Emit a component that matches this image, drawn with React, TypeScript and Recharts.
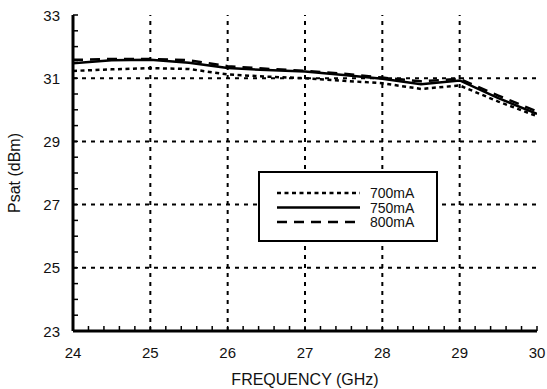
import React from "react";
import {
  LineChart,
  Line,
  XAxis,
  YAxis,
  ReferenceLine,
  Legend,
} from "recharts";

const frequency = [24, 24.5, 25, 25.5, 26, 26.5, 27, 27.5, 28, 28.5, 29, 29.5, 30];
const psat700 = [31.23, 31.28, 31.32, 31.29, 31.12, 31.05, 31.0, 30.92, 30.84, 30.66, 30.77, 30.26, 29.8];
const psat750 = [31.47, 31.57, 31.58, 31.49, 31.32, 31.26, 31.21, 31.1, 30.98, 30.81, 30.93, 30.37, 29.87];
const psat800 = [31.58, 31.61, 31.61, 31.57, 31.38, 31.3, 31.23, 31.14, 31.02, 30.9, 30.98, 30.45, 29.95];

const xTicks = Array.from({ length: 31 }, (_, i) => +(24 + i * 0.2).toFixed(1));
const yTicks = Array.from({ length: 21 }, (_, i) => 23 + i * 0.5);
const xGrid = [25, 26, 27, 28, 29];
const yGrid = [25, 27, 29, 31];

const data = frequency.map((f, i) => ({
  f,
  a700: psat700[i],
  a750: psat750[i],
  a800: psat800[i],
}));

const FONT = "'Liberation Sans', Arial, Helvetica, sans-serif";
const isMajor = (v: number) => Math.abs(v - Math.round(v)) < 1e-6;

const BottomTick = ({ x, y, payload }: any) => (
  <g>
    <line x1={x} x2={x} y1={y} y2={y - 5} stroke="#000" strokeWidth={1.5} />
    {isMajor(payload.value) && (
      <text x={x} y={y + 21} textAnchor="middle" dominantBaseline="central" fontSize={15} fontFamily={FONT} fill="#111">
        {Math.round(payload.value)}
      </text>
    )}
  </g>
);

const TopTick = ({ x, y }: any) => (
  <line x1={x} x2={x} y1={y} y2={y + 5} stroke="#000" strokeWidth={1.5} />
);

const LeftTick = ({ x, y, payload }: any) => {
  const v = payload.value;
  const label = isMajor(v) && Math.round(v) % 2 === 1;
  return (
    <g>
      <line x1={x} x2={x + 5} y1={y} y2={y} stroke="#000" strokeWidth={1.5} />
      {label && (
        <text x={x - 13} y={y} textAnchor="end" dominantBaseline="central" fontSize={15} fontFamily={FONT} fill="#111">
          {Math.round(v)}
        </text>
      )}
    </g>
  );
};

const RightTick = ({ x, y }: any) => (
  <line x1={x} x2={x - 5} y1={y} y2={y} stroke="#000" strokeWidth={1.5} />
);

const LegendBox = ({ payload }: any) => (
  <div style={{ width: 180, height: 71, border: "2px solid #000", boxSizing: "border-box", background: "#fff" }}>
    <svg width={176} height={67} style={{ display: "block" }}>
      {(payload || []).map((p: any, i: number) => {
        const yy = 20 + i * 14.5;
        return (
          <g key={p.value}>
            <line x1={17} x2={100} y1={yy} y2={yy} stroke="#000" strokeWidth={2.5} strokeDasharray={p.payload?.strokeDasharray} />
            <text x={110} y={yy} dominantBaseline="central" fontSize={14} fontFamily={FONT} fill="#111">
              {p.value}
            </text>
          </g>
        );
      })}
    </svg>
  </div>
);

export default function App() {
  return (
    <div style={{ position: "absolute", left: 0, top: 0, width: 547, height: 389, background: "#fff" }}>
      <LineChart width={547} height={389} data={data} margin={{ top: 15, right: 10, left: 0, bottom: 0 }}>
        <XAxis
          dataKey="f"
          type="number"
          domain={[24, 30]}
          ticks={xTicks}
          interval={0}
          height={58}
          tickSize={0}
          tickMargin={0}
          tickLine={false}
          axisLine={{ stroke: "#000", strokeWidth: 3 }}
          tick={<BottomTick />}
          allowDataOverflow
          label={{ value: "FREQUENCY (GHz)", position: "insideBottom", offset: 4, fontSize: 16, fontFamily: FONT, fill: "#111" }}
        />
        <XAxis
          xAxisId="t"
          orientation="top"
          dataKey="f"
          type="number"
          domain={[24, 30]}
          ticks={xTicks}
          interval={0}
          height={0}
          tickSize={0}
          tickMargin={0}
          tickLine={false}
          axisLine={{ stroke: "#000", strokeWidth: 3 }}
          tick={<TopTick />}
        />
        <YAxis
          type="number"
          domain={[23, 33]}
          ticks={yTicks}
          interval={0}
          width={73}
          tickSize={0}
          tickMargin={0}
          tickLine={false}
          axisLine={{ stroke: "#000", strokeWidth: 3 }}
          tick={<LeftTick />}
          allowDataOverflow
          label={{ value: "Psat (dBm)", angle: -90, position: "insideLeft", offset: 14, fontSize: 16, fontFamily: FONT, fill: "#111", style: { textAnchor: "middle" } }}
        />
        <YAxis
          yAxisId="r"
          orientation="right"
          type="number"
          domain={[23, 33]}
          ticks={yTicks}
          interval={0}
          width={0}
          tickSize={0}
          tickMargin={0}
          tickLine={false}
          axisLine={{ stroke: "#000", strokeWidth: 3 }}
          tick={<RightTick />}
        />
        {xGrid.map((v) => (
          <ReferenceLine key={"x" + v} x={v} stroke="#000" strokeWidth={2} strokeDasharray="4 5" />
        ))}
        {yGrid.map((v) => (
          <ReferenceLine key={"y" + v} y={v} stroke="#000" strokeWidth={2} strokeDasharray="4 5" />
        ))}
        <Line dataKey="a700" name="700mA" type="linear" stroke="#000" strokeWidth={2.5} strokeDasharray="4 3.5" dot={false} activeDot={false} isAnimationActive={false} />
        <Line dataKey="a750" name="750mA" type="linear" stroke="#000" strokeWidth={2.5} dot={false} activeDot={false} isAnimationActive={false} />
        <Line dataKey="a800" name="800mA" type="linear" stroke="#000" strokeWidth={2.5} strokeDasharray="10 7" dot={false} activeDot={false} isAnimationActive={false} />
        <Legend
          layout="horizontal"
          verticalAlign="middle"
          align="center"
          content={<LegendBox />}
          wrapperStyle={{ left: 258, top: 171, width: 180, height: 71 }}
        />
      </LineChart>
    </div>
  );
}
